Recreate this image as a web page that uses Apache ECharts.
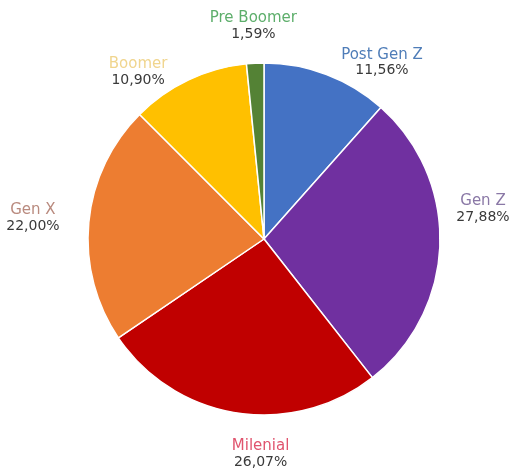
<!DOCTYPE html>
<html>
<head>
<meta charset="utf-8">
<script src="https://cdn.jsdelivr.net/npm/echarts@6/dist/echarts.min.js"></script>
<style>html,body{margin:0;padding:0;background:#fff}#c{width:512px;height:468px}</style>
</head>
<body>
<div id="c"></div>
<script>
// Data (clockwise from 12 o'clock)
var categories = ['Post Gen Z', 'Gen Z', 'Milenial', 'Gen X', 'Boomer', 'Pre Boomer'];
var shares = [11.56, 27.88, 26.07, 22.00, 10.90, 1.59];
var sliceColors = ['#4472C4', '#7030A0', '#C00000', '#ED7D31', '#FFC000', '#548235'];
var nameColors = ['#4F7DB8', '#8A78A6', '#E0546E', '#B98A7E', '#F0D58E', '#5DAE6B'];

// label placement tweaks (degrees shift from slice mid-angle, extra radius)
var labelAngleShift = [13, -9.6, -8, -0.3, -11.7, 0];
var labelGap = [36, 45, 39, 56, 33, 37];

var CX = 264, CY = 239, R = 176;

var total = shares.reduce(function (a, b) { return a + b; }, 0);
var mids = [];
var acc = 0;
for (var i = 0; i < shares.length; i++) {
  mids.push((acc + shares[i] / 2) / total * 360);
  acc += shares[i];
}

var data = categories.map(function (n, i) {
  return {
    name: n, value: shares[i],
    itemStyle: { color: sliceColors[i] },
    label: { rich: { n: { color: nameColors[i], fontSize: 15, fontFamily: 'DejaVu Sans', align: 'center', lineHeight: 16 },
                     v: { color: '#3a3a3a', fontSize: 14, fontFamily: 'DejaVu Sans', align: 'center', lineHeight: 16 } } }
  };
});

var chart = echarts.init(document.getElementById('c'), null, { renderer: 'canvas' });
chart.setOption({
  animation: false,
  backgroundColor: '#ffffff',
  series: [{
    type: 'pie',
    center: [CX, CY],
    radius: R,
    startAngle: 90,
    clockwise: true,
    data: data,
    itemStyle: { borderColor: '#ffffff', borderWidth: 1.5 },
    label: {
      show: true,
      position: 'outside',
      overflow: 'none',
      alignTo: 'none',
      formatter: function (p) {
        return '{n|' + p.name + '}\n{v|' + p.value.toFixed(2).replace('.', ',') + '%}';
      }
    },
    labelLine: { show: false },
    labelLayout: function (p) {
      var i = p.dataIndex;
      var a = (mids[i] + labelAngleShift[i]) * Math.PI / 180;
      var r = R + labelGap[i];
      return {
        x: CX + r * Math.sin(a),
        y: CY - r * Math.cos(a),
        align: 'center',
        verticalAlign: 'middle'
      };
    }
  }]
});
</script>
</body>
</html>
